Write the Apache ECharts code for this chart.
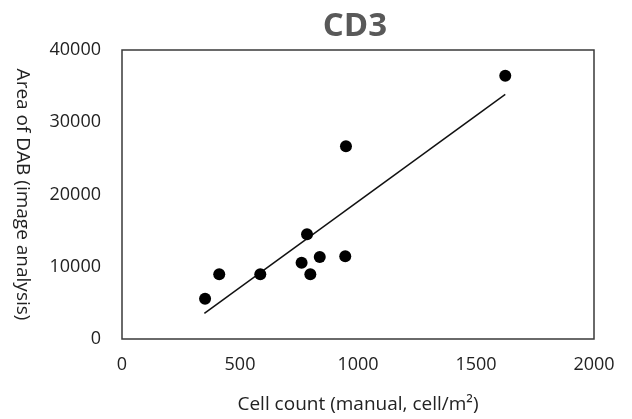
<!DOCTYPE html>
<html><head><meta charset="utf-8">
<script src="https://cdn.jsdelivr.net/npm/echarts@6/dist/echarts.min.js"></script>
<style>html,body{margin:0;padding:0;background:#fff}#c{width:632px;height:419px}</style>
</head><body><div id="c"></div>
<script>
const cellCount = [352, 412, 586, 761, 784, 798, 838, 949, 946, 1624];
const dabArea   = [5580, 8950, 8950, 10560, 14490, 8950, 11350, 26670, 11440, 36450];
const trendX = [349, 1624];
const trendY = [3550, 33870];
const xTicks = [0, 500, 1000, 1500, 2000];
const yTicks = [0, 10000, 20000, 30000, 40000];

const font = 'Open Sans';
const chart = echarts.init(document.getElementById('c'));
chart.setOption({
  animation: false,
  title: {
    text: 'CD3', left: 350, top: 5, textAlign: 'center',
    textStyle: {fontFamily: font, fontSize: 33, fontWeight: 'bold', color: '#595959'}
  },
  grid: {left: 122, right: 38, top: 50, bottom: 80, show: true, borderColor: '#3a3a3a', borderWidth: 1.5, backgroundColor: '#fff'},
  xAxis: {
    type: 'value', min: xTicks[0], max: xTicks[xTicks.length-1], interval: 500,
    axisLine: {show: false}, axisTick: {show: false}, splitLine: {show: false},
    axisLabel: {fontFamily: font, fontSize: 18, color: '#222', margin: 17, formatter: v => String(v)},
    name: 'Cell count (manual, cell/m²)', nameLocation: 'middle', nameGap: 56,
    nameTextStyle: {fontFamily: font, fontSize: 19, color: '#222'}
  },
  yAxis: {
    type: 'value', min: yTicks[0], max: yTicks[yTicks.length-1], interval: 10000,
    axisLine: {show: false}, axisTick: {show: false}, splitLine: {show: false},
    axisLabel: {fontFamily: font, fontSize: 18, color: '#222', margin: 21, formatter: v => String(v)},
    name: 'Area of DAB (image analysis)', nameLocation: 'middle', nameGap: 90, nameRotate: -90,
    nameTextStyle: {fontFamily: font, fontSize: 19, color: '#222'}
  },
  series: [
    {type: 'line', data: trendX.map((x, i) => [x, trendY[i]]), symbol: 'none',
     lineStyle: {color: '#111', width: 1.5}, z: 2},
    {type: 'scatter', data: cellCount.map((x, i) => [x, dabArea[i]]), symbolSize: 12,
     itemStyle: {color: '#000', opacity: 1}, z: 3}
  ]
});
</script></body></html>
